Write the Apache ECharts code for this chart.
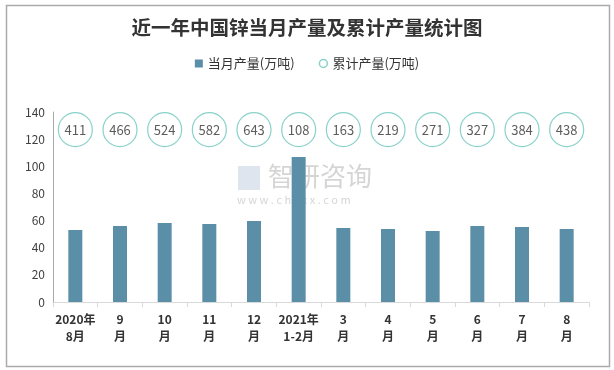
<!DOCTYPE html>
<html><head><meta charset="utf-8">
<script src="https://cdn.jsdelivr.net/npm/echarts@6/dist/echarts.min.js"></script>
<style>html,body{margin:0;padding:0;background:#fff}#c{width:614px;height:370px}</style>
</head><body><div id="c"></div>
<script>
const categories = ['2020年\n8月','9\n月','10\n月','11\n月','12\n月','2021年\n1-2月','3\n月','4\n月','5\n月','6\n月','7\n月','8\n月'];
const monthly = [53.1, 56, 58.2, 57.5, 59.7, 106.9, 54.5, 53.8, 52.3, 56, 55.3, 53.8];
const cumulative = [411, 466, 524, 582, 643, 108, 163, 219, 271, 327, 384, 438];
const yTicks = [0, 20, 40, 60, 80, 100, 120, 140];
const labelRow = 127;

const chart = echarts.init(document.getElementById('c'), null, {renderer:'canvas'});
const font = '"Microsoft YaHei","Noto Sans CJK SC",sans-serif';
chart.setOption({
  animation:false,
  backgroundColor:'#fff',
  textStyle:{fontFamily:font},
  title:{text:'近一年中国锌当月产量及累计产量统计图',left:'center',top:13,
    textStyle:{fontSize:19.5,fontWeight:'bold',color:'#333',fontFamily:'"Noto Sans CJK SC",serif'}},
  legend:{top:52,left:'center',itemGap:24,itemWidth:8,itemHeight:8,
    textStyle:{fontSize:13,color:'#333'},
    data:[{name:'当月产量(万吨)',icon:'rect'},{name:'累计产量(万吨)',icon:'circle',itemStyle:{color:'#fff',borderColor:'#6cc5bd',borderWidth:1.5}}]},
  grid:{left:53,right:25,top:112,bottom:68},
  xAxis:{type:'category',data:categories,
    axisLine:{lineStyle:{color:'#d9d9d9'}},
    axisTick:{show:true,alignWithLabel:false,length:5,lineStyle:{color:'#d9d9d9'}},
    axisLabel:{interval:0,fontSize:12,fontWeight:'bold',color:'#333',lineHeight:17,margin:9}},
  yAxis:{type:'value',min:0,max:140,interval:20,
    axisLine:{show:true,lineStyle:{color:'#aaa'}},
    axisTick:{show:false},splitLine:{show:false},
    axisLabel:{fontSize:12,color:'#404040',margin:8,
      formatter:v=>yTicks.includes(v)?String(v):''}},
  graphic:[
    {type:'rect',left:4,top:3,shape:{width:603,height:361},style:{fill:'none',stroke:'#aaa',lineWidth:1.5},silent:true,z:-1},
    {type:'text',left:268,top:163,style:{text:'智研咨询',fontSize:26,fill:'rgba(150,150,150,0.4)',fontFamily:font},z:0},
    {type:'text',left:237,top:194,style:{text:'w w w . c h y x x . c o m',fontSize:11,fill:'rgba(150,150,150,0.4)',fontFamily:font},z:0},
    {type:'rect',left:238,top:166,shape:{width:22,height:24},style:{fill:'rgba(150,170,200,0.3)'},z:0}
  ],
  series:[
    {name:'当月产量(万吨)',type:'bar',data:monthly,barWidth:14,itemStyle:{color:'#5b8fa8'},z:2},
    {name:'累计产量(万吨)',type:'scatter',data:cumulative.map((v,i)=>({value:[i,labelRow],cum:v})),
      symbol:'circle',symbolSize:34,
      itemStyle:{color:'#fff',borderColor:'#6cc5bd',borderWidth:1.2},
      label:{show:true,position:'inside',fontSize:13,color:'#333',
        formatter:p=>String(cumulative[p.dataIndex])},z:3}
  ]
});
</script></body></html>
